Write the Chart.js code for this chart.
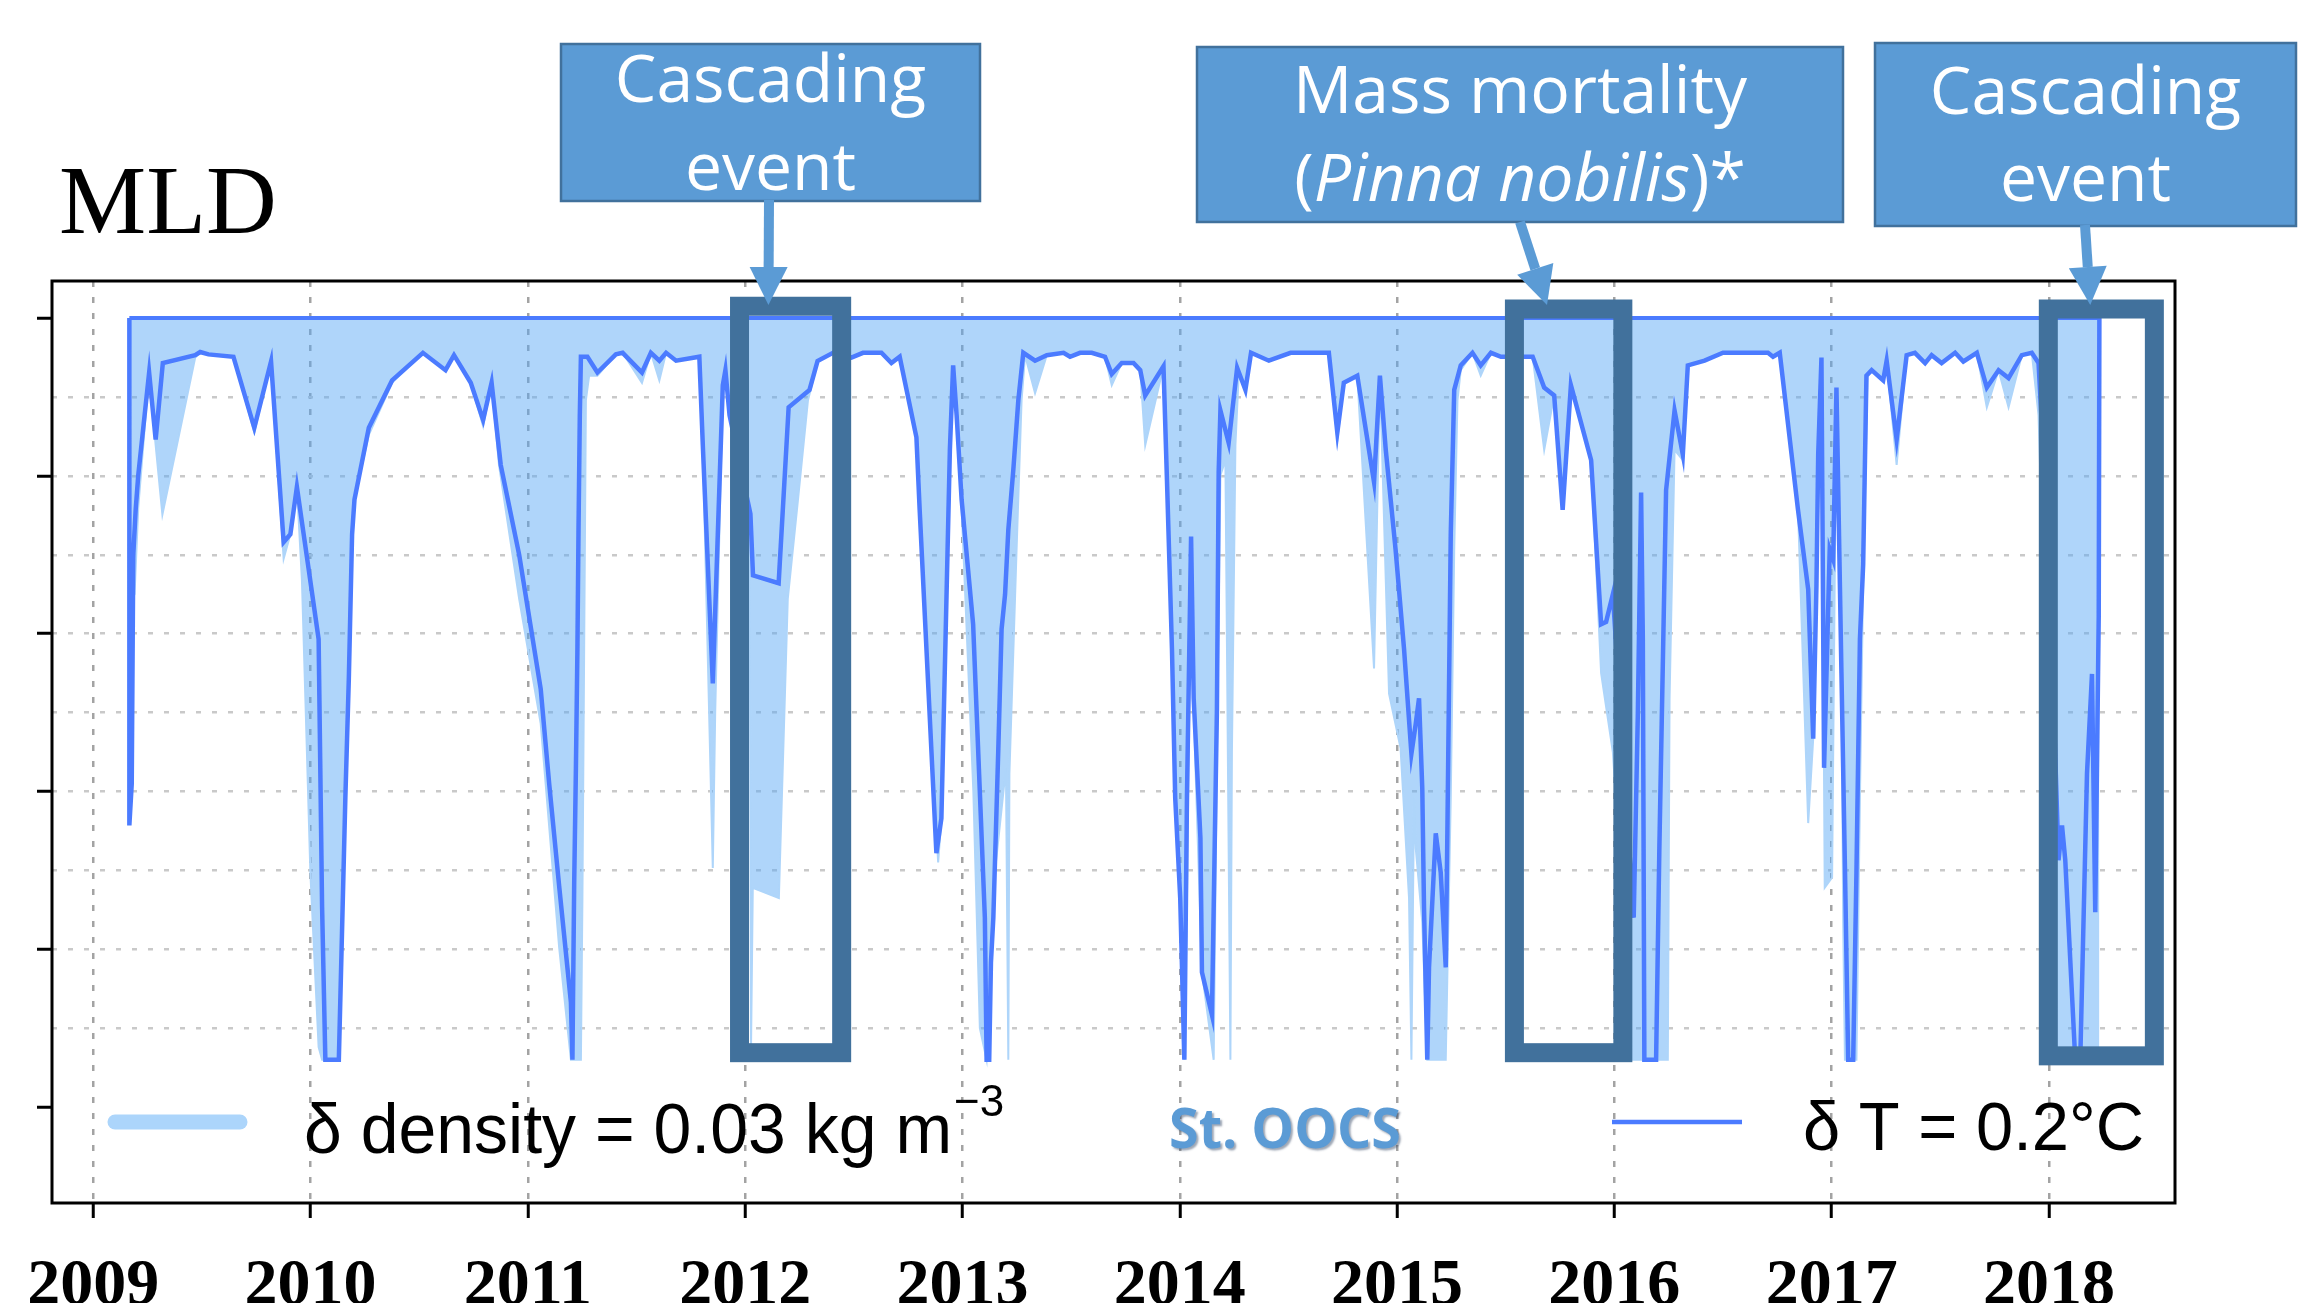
<!DOCTYPE html>
<html>
<head>
<meta charset="utf-8">
<title>MLD - St. OOCS</title>
<script src="https://cdn.jsdelivr.net/npm/chart.js@4.4.1/dist/chart.umd.min.js"></script>
<style>
  html, body { margin: 0; padding: 0; background: #fff; overflow: hidden; }
  canvas { display: block; }
</style>
</head>
<body>
<canvas id="mldChart" width="2323" height="1303"></canvas>
<script>
// Axis ticks
const yearTicks = [2009, 2010, 2011, 2012, 2013, 2014, 2015, 2016, 2017, 2018];
const depthTicks = [0, 20, 40, 60, 80, 100, 120, 140, 160, 180, 200, 220];

// MLD, temperature criterion (dT = 0.2 C), depth in m
const tYears = [
  2009.166, 2009.166, 2009.177, 2009.184, 2009.195, 2009.207, 2009.257, 2009.287, 2009.320, 2009.469,
  2009.492, 2009.530, 2009.645, 2009.741, 2009.818, 2009.876, 2009.907, 2009.937, 2009.991, 2010.037,
  2010.053, 2010.068, 2010.130, 2010.160, 2010.176, 2010.191, 2010.202, 2010.268, 2010.375, 2010.517,
  2010.621, 2010.660, 2010.737, 2010.794, 2010.833, 2010.875, 2010.960, 2011.059, 2011.098, 2011.144,
  2011.198, 2011.205, 2011.213, 2011.221, 2011.228, 2011.233, 2011.239, 2011.244, 2011.274, 2011.320,
  2011.405, 2011.436, 2011.525, 2011.566, 2011.605, 2011.636, 2011.682, 2011.789, 2011.805, 2011.851,
  2011.897, 2011.909, 2011.928, 2012.024, 2012.036, 2012.154, 2012.200, 2012.296, 2012.333, 2012.404,
  2012.489, 2012.542, 2012.627, 2012.673, 2012.711, 2012.788, 2012.803, 2012.880, 2012.903, 2012.942,
  2012.957, 2012.973, 2012.996, 2013.049, 2013.103, 2013.111, 2013.123, 2013.131, 2013.142, 2013.165,
  2013.180, 2013.196, 2013.211, 2013.234, 2013.257, 2013.280, 2013.334, 2013.388, 2013.465, 2013.495,
  2013.541, 2013.595, 2013.656, 2013.687, 2013.733, 2013.787, 2013.818, 2013.841, 2013.925, 2013.941,
  2013.964, 2013.979, 2014.002, 2014.021, 2014.033, 2014.052, 2014.064, 2014.095, 2014.102, 2014.148,
  2014.171, 2014.179, 2014.187, 2014.225, 2014.264, 2014.302, 2014.328, 2014.410, 2014.510, 2014.686,
  2014.725, 2014.755, 2014.817, 2014.894, 2014.921, 2014.948, 2014.993, 2015.032, 2015.066, 2015.086,
  2015.101, 2015.116, 2015.124, 2015.139, 2015.147, 2015.163, 2015.178, 2015.201, 2015.224, 2015.232,
  2015.247, 2015.263, 2015.293, 2015.347, 2015.385, 2015.432, 2015.478, 2015.624, 2015.677, 2015.723,
  2015.762, 2015.800, 2015.893, 2015.939, 2015.962, 2015.993, 2016.040, 2016.089, 2016.108, 2016.123,
  2016.131, 2016.138, 2016.192, 2016.207, 2016.238, 2016.277, 2016.315, 2016.338, 2016.415, 2016.500,
  2016.707, 2016.730, 2016.761, 2016.845, 2016.892, 2016.915, 2016.930, 2016.938, 2016.953, 2016.965,
  2016.991, 2017.007, 2017.022, 2017.045, 2017.061, 2017.076, 2017.099, 2017.114, 2017.130, 2017.145,
  2017.160, 2017.184, 2017.237, 2017.253, 2017.299, 2017.345, 2017.383, 2017.430, 2017.460, 2017.506,
  2017.568, 2017.606, 2017.668, 2017.714, 2017.768, 2017.814, 2017.875, 2017.921, 2017.952, 2018.000,
  2018.044, 2018.060, 2018.075, 2018.121, 2018.144, 2018.175, 2018.198, 2018.213, 2018.229, 2018.232
];
const tDepth = [
  0, 128.6, 118, 60, 48.6, 39.8, 13.8, 30.8, 11.4, 9.4,
  8.6, 9.2, 9.8, 27.8, 11, 56.8, 54.8, 42.8, 63.6, 81.4,
  149.4, 188, 188, 121.6, 91.4, 54.8, 46, 27.8, 15.8, 8.8,
  13.2, 9.4, 16.4, 25.8, 16.4, 37.2, 60, 94, 118, 144,
  173.4, 188, 143.8, 114.2, 83.8, 53.6, 24.6, 9.8, 9.8, 13.8,
  9.2, 8.8, 13.8, 8.8, 10.8, 8.8, 10.8, 9.8, 32.2, 92.6,
  17, 13.2, 24.6, 49.6, 65.2, 67.2, 22.6, 18.2, 10.9, 8.8,
  10, 8.8, 8.8, 11.4, 9.8, 30.2, 48.6, 135.6, 126.8, 33.4,
  12, 24.6, 46, 77.6, 152, 188, 188, 163.4, 152, 109,
  78.8, 70, 53.6, 38.4, 20.8, 8.8, 10.8, 9.4, 8.8, 9.8,
  8.8, 8.8, 9.8, 14.2, 11.4, 11.4, 13.2, 19.6, 12.2, 41,
  83.8, 121.6, 147, 188, 121.6, 55.4, 96.4, 131.8, 165.8, 176.6,
  99, 39, 23.4, 31.6, 12.6, 18.2, 8.8, 10.8, 8.8, 8.8,
  29, 16.4, 14.6, 41.6, 14.6, 33.4, 58.6, 83.8, 110.4, 102.8,
  96.4, 119.2, 149.4, 188, 164.6, 147, 130.6, 140.6, 164.6, 128,
  54.8, 18.2, 12, 8.8, 12, 8.8, 9.8, 9.8, 17.6, 19.6,
  48.6, 17, 36, 77.6, 77, 70, 110, 152, 100.2, 44.2,
  81.4, 188, 188, 134.4, 43.6, 23.4, 34.6, 12, 10.8, 8.8,
  8.8, 9.8, 8.8, 48.6, 68.8, 106.6, 67.6, 34.6, 10, 114,
  58.6, 61.2, 17.6, 90, 139, 188, 188, 140.6, 81.4, 62.4,
  14.6, 13.2, 15.8, 10.8, 30.8, 9.4, 8.8, 11.4, 9.4, 11.4,
  8.8, 11, 8.8, 17.6, 13.2, 15.2, 9.4, 8.8, 11.4, 60,
  137.4, 128.6, 137.4, 188, 188, 115.4, 90.2, 150.6, 75.6, 0
];

// MLD, density criterion (d density = 0.03 kg m-3), depth in m
const rhoYears = [
  2009.166, 2009.168, 2009.190, 2009.207, 2009.257, 2009.287, 2009.318, 2009.469, 2009.492, 2009.530,
  2009.645, 2009.741, 2009.818, 2009.876, 2009.907, 2009.937, 2009.960, 2009.976, 2009.999, 2010.037,
  2010.053, 2010.130, 2010.160, 2010.176, 2010.191, 2010.202, 2010.268, 2010.375, 2010.517, 2010.621,
  2010.660, 2010.737, 2010.794, 2010.833, 2010.867, 2010.960, 2011.059, 2011.144, 2011.198, 2011.244,
  2011.251, 2011.259, 2011.267, 2011.282, 2011.320, 2011.405, 2011.436, 2011.525, 2011.566, 2011.605,
  2011.636, 2011.682, 2011.789, 2011.805, 2011.851, 2011.862, 2011.897, 2011.909, 2011.928, 2012.020,
  2012.027, 2012.035, 2012.155, 2012.196, 2012.243, 2012.289, 2012.335, 2012.404, 2012.489, 2012.542,
  2012.627, 2012.673, 2012.711, 2012.788, 2012.803, 2012.888, 2012.903, 2012.942, 2012.957, 2012.973,
  2012.996, 2013.050, 2013.080, 2013.111, 2013.130, 2013.150, 2013.200, 2013.211, 2013.216, 2013.249,
  2013.272, 2013.288, 2013.334, 2013.388, 2013.465, 2013.495, 2013.541, 2013.595, 2013.656, 2013.687,
  2013.733, 2013.787, 2013.818, 2013.841, 2013.925, 2013.941, 2013.964, 2013.979, 2014.002, 2014.021,
  2014.035, 2014.052, 2014.070, 2014.102, 2014.156, 2014.171, 2014.187, 2014.210, 2014.233, 2014.240,
  2014.256, 2014.271, 2014.302, 2014.328, 2014.410, 2014.510, 2014.686, 2014.725, 2014.755, 2014.817,
  2014.894, 2014.921, 2014.963, 2015.016, 2015.055, 2015.066, 2015.078, 2015.086, 2015.116, 2015.139,
  2015.224, 2015.247, 2015.263, 2015.278, 2015.293, 2015.347, 2015.385, 2015.432, 2015.478, 2015.624,
  2015.677, 2015.723, 2015.762, 2015.800, 2015.893, 2015.939, 2015.993, 2016.084, 2016.246, 2016.254,
  2016.277, 2016.315, 2016.338, 2016.415, 2016.500, 2016.707, 2016.730, 2016.761, 2016.845, 2016.892,
  2016.915, 2016.930, 2016.953, 2016.968, 2017.002, 2017.015, 2017.022, 2017.045, 2017.053, 2017.061,
  2017.114, 2017.130, 2017.145, 2017.165, 2017.184, 2017.237, 2017.253, 2017.299, 2017.345, 2017.383,
  2017.430, 2017.460, 2017.506, 2017.568, 2017.606, 2017.668, 2017.714, 2017.768, 2017.814, 2017.875,
  2017.921, 2017.952, 2018.041, 2018.232
];
const rhoDepth = [
  0, 72, 70, 48, 13.8, 32.2, 49.8, 10, 8.6, 9.2,
  9.8, 29, 11, 61, 54.8, 42.8, 66.2, 96.4, 140.6, 184.8,
  188, 188, 121.6, 91.4, 54.8, 46, 29.6, 16.4, 8.8, 13.2,
  9.4, 16.4, 27.4, 16.4, 37.2, 71.2, 102.8, 159.6, 188, 188,
  147, 83.8, 20.8, 14.6, 14.6, 9.2, 8.8, 16.4, 8.8, 15.8,
  8.8, 10.8, 9.8, 32.2, 139.4, 100, 17, 13.2, 24.6, 51,
  184.8, 144.4, 147, 71.2, 46, 20.8, 10.8, 8.8, 10, 8.8,
  8.8, 11.4, 9.8, 30.2, 48.6, 138, 126.8, 33.4, 12, 24.6,
  48, 120, 180, 188, 164, 140, 114, 188, 115.4, 58.6,
  20.8, 9.4, 19, 9.4, 8.8, 9.8, 8.8, 8.8, 9.8, 17,
  11.4, 11.4, 13.2, 32.2, 12.2, 41, 83.8, 121.6, 147, 188,
  140, 55.4, 110, 165.8, 188, 110, 39.8, 36, 188, 110,
  32.2, 14.6, 18.2, 8.8, 10.8, 8.8, 8.8, 30.8, 16.4, 14.6,
  88.8, 14.6, 95.2, 109, 147, 188, 121.6, 134.4, 153.2, 188,
  188, 121.6, 58.6, 20.8, 13.2, 8.8, 14.6, 8.8, 9.8, 9.8,
  33.4, 19.6, 48.6, 17, 36, 90, 110, 188, 188, 96.4,
  33.4, 36, 12, 10.8, 8.8, 8.8, 9.8, 8.8, 48.6, 128,
  106.6, 67.6, 10, 144.4, 141.8, 60, 17.6, 83.8, 153.2, 188,
  188, 121.6, 66.2, 14.6, 13.2, 15.8, 10.8, 37.2, 9.4, 8.8,
  11.4, 9.4, 11.4, 8.8, 11, 8.8, 22.6, 13.2, 22.6, 9.4,
  8.8, 24.6, 188, 188
];

// surface edge of the record
const edgeYears = [2009.166, 2018.232];
const edgeDepth = [0, 0];

// highlighted periods (boxes) and where the callout arrows point
const eventStart = [2011.974, 2015.540, 2017.997];
const eventEnd = [2012.444, 2016.039, 2018.485];
const eventTop = [-3.0, -2.3, -2.3];
const eventBottom = [186.2, 186.2, 187];
const arrowYear = [2012.107, 2015.690, 2018.190];

const toPoints = (xs, ys) => xs.map((x, i) => ({ x: x, y: ys[i] }));

// callout boxes above the plot (page layout, px)
const callouts = [
  { x: 561, y: 44, w: 419, h: 157, from: [769, 200],
    lines: [{ base: 102, parts: [['Cascading', '']] }, { base: 190, parts: [['event', '']] }] },
  { x: 1197, y: 47, w: 646, h: 175, from: [1520, 222],
    lines: [{ base: 113, parts: [['Mass mortality', '']] },
            { base: 201, parts: [['(', ''], ['Pinna nobilis', 'italic '], [')*', '']] }] },
  { x: 1875, y: 43, w: 421, h: 183, from: [2085, 225],
    lines: [{ base: 114, parts: [['Cascading', '']] }, { base: 201, parts: [['event', '']] }] }
];

const SANS = '"Liberation Sans", Arial, sans-serif';
const CALLOUT_FONT = '"Open Sans", "Noto Sans", sans-serif';

function drawArrow(ctx, x0, y0, x1, y1) {
  const ang = Math.atan2(y1 - y0, x1 - x0);
  const headLen = 38, headHalf = 19;
  const bx = x1 - headLen * Math.cos(ang), by = y1 - headLen * Math.sin(ang);
  ctx.strokeStyle = '#5b9bd5';
  ctx.fillStyle = '#5b9bd5';
  ctx.lineWidth = 10;
  ctx.beginPath();
  ctx.moveTo(x0, y0);
  ctx.lineTo(bx, by);
  ctx.stroke();
  ctx.beginPath();
  ctx.moveTo(x1, y1);
  ctx.lineTo(bx + headHalf * Math.sin(ang), by - headHalf * Math.cos(ang));
  ctx.lineTo(bx - headHalf * Math.sin(ang), by + headHalf * Math.cos(ang));
  ctx.closePath();
  ctx.fill();
}

// text squeezed/stretched horizontally to a given width
function fitText(ctx, text, x, y, width) {
  const w = ctx.measureText(text).width;
  ctx.save();
  ctx.translate(x, y);
  ctx.scale(width / w, 1);
  ctx.fillText(text, 0, 0);
  ctx.restore();
}

const decorations = {
  id: 'decorations',
  afterDatasetsDraw(chart) {
    const { ctx, scales: { x, y } } = chart;
    ctx.save();
    ctx.strokeStyle = '#41719c';
    ctx.lineWidth = 19;
    eventStart.forEach((s, i) => {
      const x0 = x.getPixelForValue(s), x1 = x.getPixelForValue(eventEnd[i]);
      const y0 = y.getPixelForValue(eventTop[i]), y1 = y.getPixelForValue(eventBottom[i]);
      ctx.strokeRect(x0, y0, x1 - x0, y1 - y0);
    });
    ctx.restore();
  },
  afterDraw(chart) {
    const { ctx, chartArea: a, scales: { x } } = chart;
    ctx.save();

    // plot frame
    ctx.strokeStyle = '#000';
    ctx.lineWidth = 3;
    ctx.strokeRect(a.left, a.top, a.right - a.left, a.bottom - a.top);

    // title
    ctx.fillStyle = '#000';
    ctx.textBaseline = 'alphabetic';
    ctx.textAlign = 'left';
    ctx.font = '98px "Liberation Serif", "Times New Roman", serif';
    ctx.fillText('MLD', 59, 233);

    // legend
    ctx.lineCap = 'round';
    ctx.strokeStyle = '#acd5fb';
    ctx.lineWidth = 15;
    ctx.beginPath(); ctx.moveTo(115, 1122); ctx.lineTo(240, 1122); ctx.stroke();
    ctx.lineCap = 'butt';
    ctx.strokeStyle = '#4b7bff';
    ctx.lineWidth = 4.5;
    ctx.beginPath(); ctx.moveTo(1612, 1122); ctx.lineTo(1742, 1122); ctx.stroke();

    ctx.fillStyle = '#000';
    ctx.font = '70px ' + SANS;
    fitText(ctx, 'δ density = 0.03 kg m', 304, 1153, 648);
    ctx.font = '44px ' + SANS;
    ctx.fillText('\u22123', 954, 1116);
    ctx.font = '68px ' + SANS;
    fitText(ctx, 'δ T = 0.2°C', 1803, 1150, 341);

    ctx.save();
    ctx.shadowColor = 'rgba(40,60,90,0.45)';
    ctx.shadowOffsetX = 2;
    ctx.shadowOffsetY = 2;
    ctx.shadowBlur = 2;
    ctx.fillStyle = '#5b9bd5';
    ctx.font = 'bold 56px ' + CALLOUT_FONT;
    fitText(ctx, 'St. OOCS', 1169, 1148, 232);
    ctx.restore();

    // callout boxes with arrows
    callouts.forEach((c, i) => {
      ctx.fillStyle = '#5b9bd5';
      ctx.fillRect(c.x, c.y, c.w, c.h);
      ctx.strokeStyle = '#41719c';
      ctx.lineWidth = 2.5;
      ctx.strokeRect(c.x, c.y, c.w, c.h);
      ctx.fillStyle = '#fff';
      c.lines.forEach(line => {
        const widths = line.parts.map(p => {
          ctx.font = p[1] + '66px ' + CALLOUT_FONT;
          return ctx.measureText(p[0]).width;
        });
        let cx = c.x + c.w / 2 - widths.reduce((s, w) => s + w, 0) / 2;
        line.parts.forEach((p, k) => {
          ctx.font = p[1] + '66px ' + CALLOUT_FONT;
          ctx.fillText(p[0], cx, line.base);
          cx += widths[k];
        });
      });
      drawArrow(ctx, c.from[0], c.from[1], x.getPixelForValue(arrowYear[i]), 305);
    });

    ctx.restore();
  }
};

new Chart(document.getElementById('mldChart'), {
  type: 'line',
  data: {
    datasets: [
      {
        label: 'δ T = 0.2°C',
        data: toPoints(tYears, tDepth),
        borderColor: '#4b7bff',
        borderWidth: 4.5,
        pointRadius: 0,
        tension: 0,
        fill: false,
        order: 0
      },
      {
        label: 'surface',
        data: toPoints(edgeYears, edgeDepth),
        borderColor: '#4b7bff',
        borderWidth: 4,
        pointRadius: 0,
        fill: false,
        order: 1
      },
      {
        label: 'δ density = 0.03 kg m-3',
        data: toPoints(rhoYears, rhoDepth),
        borderColor: '#aed5fa',
        backgroundColor: 'rgba(87, 167, 245, 0.48)',
        borderWidth: 2,
        pointRadius: 0,
        tension: 0,
        fill: 'origin',
        order: 2
      }
    ]
  },
  options: {
    responsive: false,
    animation: false,
    layout: { padding: { left: 37, right: 148, top: 281, bottom: 0 } },
    plugins: {
      legend: { display: false },
      tooltip: { enabled: false }
    },
    scales: {
      x: {
        type: 'linear',
        min: 2008.81,
        max: 2018.58,
        afterBuildTicks: axis => { axis.ticks = yearTicks.map(v => ({ value: v })); },
        afterFit: axis => { axis.height = 100; },
        ticks: {
          callback: v => String(v),
          color: '#000',
          padding: 26,
          maxRotation: 0,
          autoSkip: false,
          font: { family: '"Liberation Serif", "Times New Roman", serif', weight: 'bold', size: 66, lineHeight: 1.3 }
        },
        grid: {
          color: '#a3a3a3',
          lineWidth: 2.5,
          tickColor: '#000',
          tickWidth: 3,
          tickLength: 15
        },
        border: { display: false, dash: [6, 10] }
      },
      y: {
        type: 'linear',
        reverse: true,
        min: -9.4,
        max: 224.3,
        afterBuildTicks: axis => { axis.ticks = depthTicks.map(v => ({ value: v })); },
        afterFit: axis => { axis.width = 15; },
        ticks: { display: false },
        grid: {
          color: c => (c.tick && c.tick.value > 0 && c.tick.value < 200) ? '#c9c9c9' : 'rgba(0,0,0,0)',
          lineWidth: 2.5,
          tickColor: c => (c.tick && c.tick.value % 40 === 0 && c.tick.value <= 200) ? '#000' : 'rgba(0,0,0,0)',
          tickWidth: 3,
          tickLength: 15
        },
        border: { display: false, dash: [5, 11] }
      }
    }
  },
  plugins: [decorations]
});
</script>
</body>
</html>
